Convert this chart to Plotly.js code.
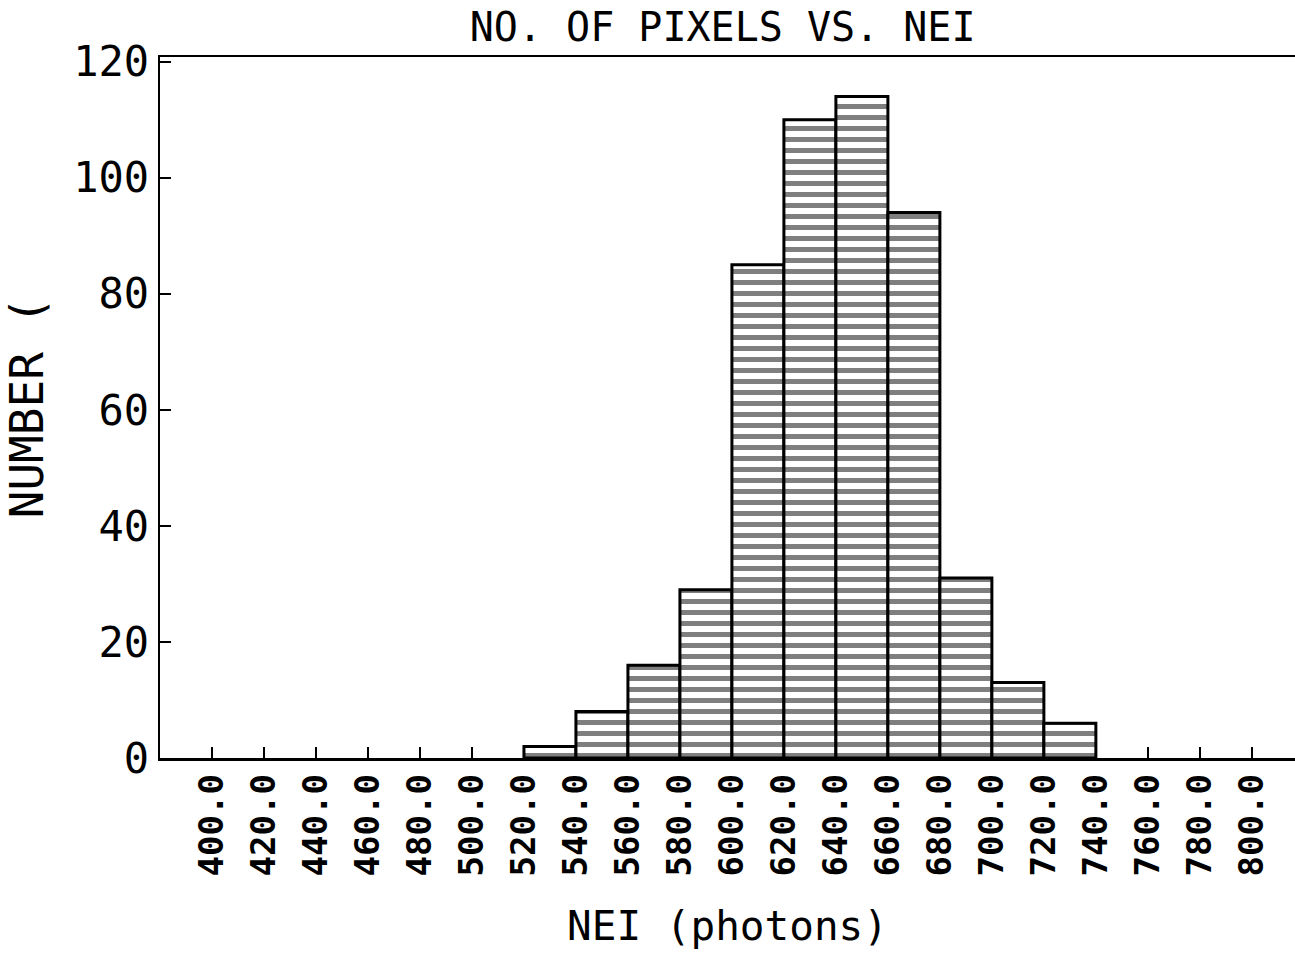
<!DOCTYPE html>
<html>
<head>
<meta charset="utf-8">
<script src="https://cdn.plot.ly/plotly-3.0.1.min.js"></script>
<style>html,body{margin:0;padding:0;background:#fff;}#chart{width:1295px;height:955px;}</style>
</head>
<body>
<div id="chart"></div>
<script>
// Histogram data: left edge of each 20-photon bin and the pixel count in it
const binLeft = [520, 540, 560, 580, 600, 620, 640, 660, 680, 700, 720];
const counts  = [2, 8, 16, 29, 85, 110, 114, 94, 31, 13, 6];
const binWidth = 20;
const xTickVals = [400, 420, 440, 460, 480, 500, 520, 540, 560, 580, 600, 620, 640, 660, 680, 700, 720, 740, 760, 780, 800];
const xTickText = xTickVals.map(v => v.toFixed(1));
const yTickVals = [0, 20, 40, 60, 80, 100, 120];
const yTickText = yTickVals.map(v => String(v));

const font = "DejaVu Sans Mono, Liberation Mono, monospace";

const trace = {
  type: 'bar',
  x: binLeft,
  y: counts,
  width: binLeft.map(() => binWidth),
  offset: 0,
  marker: {
    color: '#ffffff',
    line: {color: '#000000', width: 3},
    pattern: {shape: '-', size: 11, solidity: 0.45, fgcolor: '#000000', bgcolor: '#ffffff', fillmode: 'overlay'}
  },
  hoverinfo: 'x+y'
};

const layout = {
  width: 1295,
  height: 955,
  margin: {l: 160, r: 0, t: 57, b: 197, pad: 0},
  paper_bgcolor: '#ffffff',
  plot_bgcolor: '#ffffff',
  showlegend: false,
  bargap: 0,
  title: {
    text: 'NO. OF PIXELS VS. NEI',
    font: {family: font, size: 40, color: '#000'},
    x: 0.558, xanchor: 'center', y: 0.972, yanchor: 'middle'
  },
  xaxis: {
    range: [380, 816.6],
    showline: true, linecolor: '#000', linewidth: 2.5, mirror: true,
    showgrid: false, zeroline: false,
    ticks: 'inside', ticklen: 11, tickwidth: 2, tickcolor: '#000',
    tickmode: 'array', tickvals: xTickVals, ticktext: xTickText,
    tickangle: -90,
    tickfont: {family: font, size: 34, color: '#000', weight: 'bold'},
    ticklabelstandoff: 0,
    title: {text: 'NEI (photons)', font: {family: font, size: 41, color: '#000'}, standoff: 36}
  },
  yaxis: {
    range: [0, 120.8],
    showline: true, linecolor: '#000', linewidth: 2.5, mirror: false,
    showgrid: false, zeroline: false,
    ticks: 'inside', ticklen: 11, tickwidth: 2, tickcolor: '#000',
    tickmode: 'array', tickvals: yTickVals, ticktext: yTickText,
    tickfont: {family: font, size: 42, color: '#000'},
    ticklabelstandoff: 0,
    title: {text: 'NUMBER (', font: {family: font, size: 46, color: '#000'}, standoff: 18}
  }
};

Plotly.newPlot('chart', [trace], layout, {displayModeBar: false, staticPlot: true});
</script>
</body>
</html>
